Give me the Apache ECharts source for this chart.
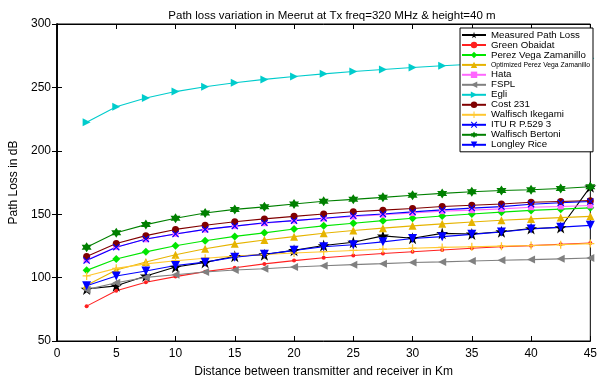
<!DOCTYPE html>
<html>
<head>
<meta charset="utf-8">
<script src="https://cdn.jsdelivr.net/npm/echarts@6/dist/echarts.min.js"></script>
<style>html,body{margin:0;padding:0;background:#fff}#c{width:600px;height:383px}</style>
</head>
<body>
<div id="c"></div>
<script>
var distance = [2.5, 5, 7.5, 10, 12.5, 15, 17.5, 20, 22.5, 25, 27.5, 30, 32.5, 35, 37.5, 40, 42.5, 45];
var measured = [91.0, 93.5, 101.3, 108.3, 112.0, 116.8, 118.1, 121.5, 125.3, 127.9, 132.9, 131.0, 134.9, 134.4, 136.2, 138.7, 139.5, 171.6];
var greenObaidat = [77.5, 89.6, 96.3, 100.8, 104.7, 107.8, 110.8, 113.4, 115.7, 117.4, 119.0, 120.4, 121.8, 123.1, 124.3, 125.2, 126.3, 127.3];
var perezVega = [105.7, 114.6, 120.3, 125.1, 129.0, 132.5, 135.3, 138.3, 140.8, 142.9, 144.9, 146.8, 148.6, 150.2, 151.6, 153.0, 154.0, 155.0];
var optPerezVega = [94.0, 106.0, 112.3, 118.0, 122.8, 126.6, 129.7, 132.3, 135.0, 137.2, 139.0, 140.8, 142.4, 143.9, 145.2, 146.3, 147.3, 148.3];
var hata = [113.8, 124.2, 130.2, 134.5, 137.8, 140.6, 142.9, 144.9, 146.6, 148.2, 149.6, 150.9, 152.4, 153.2, 154.2, 155.5, 156.1, 156.9];
var fspl = [90.5, 96.0, 100.2, 102.3, 104.4, 106.0, 107.0, 108.3, 109.4, 110.2, 111.0, 111.9, 112.4, 113.1, 113.7, 114.2, 114.8, 115.4];
var egli = [222.5, 234.7, 241.6, 246.7, 250.5, 253.7, 256.3, 258.6, 260.7, 262.5, 264.1, 265.7, 267.1, 268.3, 269.5, 270.7, 271.7, 273.0];
var cost231 = [116.6, 126.9, 133.1, 138.0, 141.3, 144.0, 146.3, 148.3, 150.1, 151.9, 153.2, 154.5, 156.1, 157.1, 158.1, 159.4, 160.0, 160.7];
var walfischIkegami = [101.3, 107.3, 110.8, 113.3, 115.3, 116.9, 118.2, 119.4, 120.4, 121.4, 122.4, 123.2, 123.8, 124.3, 124.8, 125.3, 125.9, 126.8];
var itu = [113.5, 124.0, 130.5, 134.4, 138.0, 140.6, 143.2, 144.9, 146.8, 148.8, 150.1, 151.8, 153.4, 154.8, 156.0, 157.9, 159.0, 160.0];
var walfischBertoni = [124.0, 135.4, 141.8, 146.8, 150.9, 153.8, 155.8, 158.1, 160.2, 161.7, 163.3, 165.0, 166.4, 167.7, 168.7, 169.3, 170.3, 171.6];
var longleyRice = [93.6, 101.3, 105.2, 109.6, 112.2, 116.0, 118.4, 121.5, 124.3, 125.9, 128.2, 130.8, 132.3, 134.1, 136.0, 138.3, 139.8, 141.2];

var xTicks = [0, 5, 10, 15, 20, 25, 30, 35, 40, 45];
var yTicks = [50, 100, 150, 200, 250, 300];

var STAR = 'path://M50,0 L61,35 L98,35 L68,57 L79,91 L50,70 L21,91 L32,57 L2,35 L39,35 Z';
var HEX = 'path://M50,0 L64,25 L93,25 L79,50 L93,75 L64,75 L50,100 L36,75 L7,75 L21,50 L7,25 L36,25 Z';
var PLUS = 'path://M42,0 H58 V42 H100 V58 H58 V100 H42 V58 H0 V42 H42 Z';
var XMARK = 'path://M0,12 L12,0 L50,38 L88,0 L100,12 L62,50 L100,88 L88,100 L50,62 L12,100 L0,88 L38,50 Z';

function pts(arr) { return distance.map(function (d, i) { return [d, arr[i]]; }); }

var seriesDefs = [
  { name: 'Measured Path Loss', data: measured, color: '#000000', symbol: STAR, size: 12 },
  { name: 'Green Obaidat', data: greenObaidat, color: '#ff2020', symbol: 'circle', size: 4 },
  { name: 'Perez Vega Zamanillo', data: perezVega, color: '#00e600', symbol: 'diamond', size: 8 },
  { name: 'Optimized Perez Vega Zamanillo', data: optPerezVega, color: '#e6b400', symbol: 'triangle', size: 8 },
  { name: 'Hata', data: hata, color: '#ff66ff', symbol: 'rect', size: 6 },
  { name: 'FSPL', data: fspl, color: '#808080', symbol: 'triangle', size: 8, rotate: 90 },
  { name: 'Egli', data: egli, color: '#00cccc', symbol: 'triangle', size: 8, rotate: -90 },
  { name: 'Cost 231', data: cost231, color: '#800000', symbol: 'circle', size: 7 },
  { name: 'Walfisch Ikegami', data: walfischIkegami, color: '#ffc830', symbol: PLUS, size: 8 },
  { name: 'ITU R P.529 3', data: itu, color: '#0000ff', symbol: XMARK, size: 7 },
  { name: 'Walfisch Bertoni', data: walfischBertoni, color: '#008000', symbol: HEX, size: 10 },
  { name: 'Longley Rice', data: longleyRice, color: '#0000ff', symbol: 'triangle', size: 9, rotate: 180 }
];

var series = seriesDefs.map(function (s) {
  return {
    name: s.name,
    type: 'line',
    data: pts(s.data),
    xAxisIndex: 0,
    yAxisIndex: 0,
    symbol: s.symbol,
    symbolSize: s.size,
    symbolRotate: s.rotate || 0,
    showAllSymbol: true,
    animation: false,
    lineStyle: { color: s.color, width: 1.1 },
    itemStyle: { color: s.color, borderWidth: 0 },
    emphasis: { disabled: true }
  };
});

var chart = echarts.init(document.getElementById('c'), null, { renderer: 'canvas' });
var axisFont = { fontFamily: 'Liberation Sans, Arial, sans-serif', fontSize: 12, color: '#000' };

chart.setOption({
  animation: false,
  backgroundColor: '#fff',
  title: {
    text: 'Path loss variation in Meerut at Tx freq=320 MHz & height=40 m',
    left: 327, textAlign: 'center', top: 5,
    textStyle: { fontFamily: 'Liberation Sans, Arial, sans-serif', fontSize: 11.5, fontWeight: 'normal', color: '#000' }
  },
  grid: { left: 57, right: 3, top: 24, bottom: 37, show: true, borderColor: '#000', borderWidth: 1, backgroundColor: 'transparent' },
  legend: {
    orient: 'vertical',
    right: 7, top: 28,
    itemWidth: 24, itemHeight: 8, itemGap: 0,
    padding: [2, 3, 2, 1],
    backgroundColor: '#fff',
    borderColor: '#000', borderWidth: 1, borderRadius: 0,
    data: seriesDefs.map(function (s) { return s.name; }),
    formatter: function (name) {
      return name === 'Optimized Perez Vega Zamanillo' ? '{n|' + name + '}' : name;
    },
    textStyle: {
      fontFamily: 'Liberation Sans, Arial, sans-serif', fontSize: 9.7, lineHeight: 9.8, color: '#000',
      rich: { n: { fontFamily: 'Liberation Sans, Arial, sans-serif', fontSize: 6.8, lineHeight: 9.8, color: '#000' } }
    }
  },
  xAxis: [
    {
      type: 'value', position: 'bottom', min: 0, max: 45, interval: 5,
      name: 'Distance between transmitter and receiver in Km', nameLocation: 'middle', nameGap: 25,
      nameTextStyle: axisFont,
      axisLine: { show: true, lineStyle: { color: '#000', width: 1 } },
      axisTick: { show: true, inside: true, length: 5, lineStyle: { color: '#000' } },
      axisLabel: Object.assign({ margin: 7, formatter: function (v) { return xTicks.indexOf(v) >= 0 ? String(v) : ''; } }, axisFont),
      splitLine: { show: false }
    },
    {
      type: 'value', position: 'top', min: 0, max: 45, interval: 5,
      axisLine: { show: true, lineStyle: { color: '#000', width: 1 } },
      axisTick: { show: true, inside: true, length: 5, lineStyle: { color: '#000' } },
      axisLabel: { show: false }, splitLine: { show: false }
    }
  ],
  yAxis: [
    {
      type: 'value', position: 'left', min: 50, max: 300, interval: 50,
      name: 'Path Loss in dB', nameLocation: 'middle', nameGap: 31, nameRotate: 90,
      nameTextStyle: axisFont,
      axisLine: { show: true, lineStyle: { color: '#000', width: 1.5 } },
      axisTick: { show: true, inside: true, length: 5, lineStyle: { color: '#000' } },
      axisLabel: Object.assign({ margin: 6, formatter: function (v) { return yTicks.indexOf(v) >= 0 ? String(v) : ''; } }, axisFont),
      splitLine: { show: false }
    },
    {
      type: 'value', position: 'right', min: 50, max: 300, interval: 50,
      axisLine: { show: true, lineStyle: { color: '#000', width: 1.5 } },
      axisTick: { show: true, inside: true, length: 5, lineStyle: { color: '#000' } },
      axisLabel: { show: false }, splitLine: { show: false }
    }
  ],
  series: series
});
</script>
</body>
</html>
